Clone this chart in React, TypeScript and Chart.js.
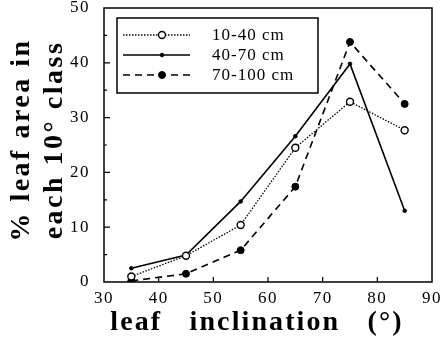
import React, { useEffect, useRef } from "react";
import { Chart, registerables } from "chart.js";

Chart.register(...registerables);

const inclination = [35, 45, 55, 65, 75, 85];
const seriesLabels = ["10-40 cm", "40-70 cm", "70-100 cm"];
const s10to40 = [1.0, 4.8, 10.4, 24.5, 32.9, 27.7];
const s40to70 = [2.5, 4.9, 14.7, 26.6, 39.8, 13.0];
const s70to100 = [0.2, 1.5, 5.8, 17.4, 43.8, 32.5];
const xTitle = "leaf   inclination   (°)";
const yTitleLines = ["% leaf area in", "each 10° class"];

const SERIF = "'Liberation Serif', 'Times New Roman', serif";

const decorPlugin = {
  id: "decor",
  beforeDraw(chart: any) {
    chart.ctx.letterSpacing = "1.5px";
  },
  afterDraw(chart: any) {
    const ctx = chart.ctx as CanvasRenderingContext2D;
    const a = chart.chartArea;
    const xs = chart.scales.x;
    const ys = chart.scales.y;
    ctx.save();
    ctx.strokeStyle = "#000";
    ctx.setLineDash([]);
    ctx.lineWidth = 1.5;
    ctx.strokeRect(a.left, a.top, a.right - a.left, a.bottom - a.top);
    ctx.lineWidth = 1.2;
    ctx.beginPath();
    for (let v = 40; v <= 80; v += 10) {
      const px = xs.getPixelForValue(v);
      ctx.moveTo(px, a.bottom);
      ctx.lineTo(px, a.bottom - 5);
    }
    for (let v = 5; v < 50; v += 5) {
      const py = ys.getPixelForValue(v);
      const len = v % 10 === 0 ? 6 : 3;
      ctx.moveTo(a.left, py);
      ctx.lineTo(a.left + len, py);
    }
    ctx.stroke();

    // legend
    const lx = 117, ly = 18, lw = 201, lh = 75;
    ctx.lineWidth = 1.5;
    ctx.strokeRect(lx, ly, lw, lh);
    ctx.font = `17px ${SERIF}`;
    ctx.letterSpacing = "1px";
    ctx.fillStyle = "#000";
    ctx.textBaseline = "middle";
    ctx.textAlign = "left";
    chart.data.datasets.forEach((ds: any, i: number) => {
      const y = 35 + i * 20;
      ctx.save();
      ctx.lineWidth = ds.borderWidth;
      ctx.setLineDash(ds.borderDash || []);
      ctx.beginPath();
      ctx.moveTo(123, y);
      ctx.lineTo(190, y);
      ctx.stroke();
      ctx.setLineDash([]);
      const mx = 162;
      ctx.beginPath();
      ctx.arc(mx, y, ds.pointRadius, 0, Math.PI * 2);
      ctx.fillStyle = ds.pointBackgroundColor;
      ctx.fill();
      ctx.lineWidth = ds.pointBorderWidth;
      ctx.stroke();
      ctx.restore();
      ctx.fillText(ds.label, 212, y + 1);
    });

    // axis titles
    ctx.font = `bold 28px ${SERIF}`;
    ctx.letterSpacing = "2.1px";
    ctx.textAlign = "center";
    ctx.textBaseline = "middle";
    ctx.fillStyle = "#000";
    ctx.fillText(xTitle, 257, 323);
    ctx.letterSpacing = "2.5px";
    const xCenters = [22, 55];
    yTitleLines.forEach((t, i) => {
      ctx.save();
      ctx.translate(xCenters[i], 140);
      ctx.rotate(-Math.PI / 2);
      ctx.fillText(t, 0, 0);
      ctx.restore();
    });
    ctx.restore();
  },
};

export default function App() {
  const ref = useRef<HTMLCanvasElement | null>(null);
  useEffect(() => {
    if (!ref.current) return;
    const mk = (vals: number[]) => vals.map((v, i) => ({ x: inclination[i], y: v }));
    const chart = new Chart(ref.current, {
      type: "line",
      data: {
        datasets: [
          {
            label: seriesLabels[0],
            data: mk(s10to40),
            borderColor: "#000",
            borderWidth: 1.3,
            borderDash: [1.5, 1.5],
            pointRadius: 3.5,
            pointBackgroundColor: "#fff",
            pointBorderColor: "#000",
            pointBorderWidth: 1.4,
            tension: 0,
          },
          {
            label: seriesLabels[1],
            data: mk(s40to70),
            borderColor: "#000",
            borderWidth: 1.6,
            borderDash: [],
            pointRadius: 1.8,
            pointBackgroundColor: "#000",
            pointBorderColor: "#000",
            pointBorderWidth: 1,
            tension: 0,
          },
          {
            label: seriesLabels[2],
            data: mk(s70to100),
            borderColor: "#000",
            borderWidth: 1.6,
            borderDash: [7, 5],
            pointRadius: 3.5,
            pointBackgroundColor: "#000",
            pointBorderColor: "#000",
            pointBorderWidth: 1,
            tension: 0,
          },
        ],
      },
      options: {
        animation: false,
        responsive: false,
        layout: { padding: { top: 8, right: 11, left: 0, bottom: 0 } },
        plugins: { legend: { display: false }, tooltip: { enabled: false }, title: { display: false } },
        scales: {
          x: {
            type: "linear",
            min: 30,
            max: 90,
            grid: { display: false, drawTicks: false },
            border: { display: false },
            ticks: { stepSize: 10, color: "#000", padding: 6, font: { family: SERIF, size: 17 } },
            afterFit: (s: any) => {
              s.height = 62;
              s.paddingLeft = 0;
              s.paddingRight = 0;
            },
          },
          y: {
            type: "linear",
            min: 0,
            max: 50,
            grid: { display: false, drawTicks: false },
            border: { display: false },
            ticks: { stepSize: 10, color: "#000", padding: 14, font: { family: SERIF, size: 17 } },
            afterFit: (s: any) => {
              s.width = 104;
              s.paddingTop = 0;
              s.paddingBottom = 0;
            },
          },
        },
      },
      plugins: [decorPlugin],
    } as any);
    return () => chart.destroy();
  }, []);
  return (
    <div style={{ position: "absolute", left: 0, top: 0, width: 443, height: 344, background: "#fff" }}>
      <canvas ref={ref} width={443} height={344} style={{ display: "block" }} />
    </div>
  );
}
